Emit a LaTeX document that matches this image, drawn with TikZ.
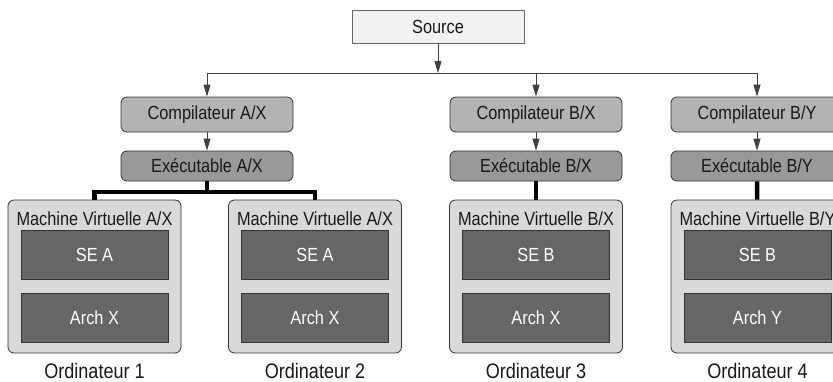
\documentclass[tikz,border=0pt]{standalone}
\usepackage{fontspec}
\setmainfont{Liberation Sans}[FakeStretch=0.86]
\usetikzlibrary{arrows.meta}
\definecolor{srcfill}{HTML}{F2F2F2}
\definecolor{compfill}{HTML}{B3B3B3}
\definecolor{exefill}{HTML}{999999}
\definecolor{vmfill}{HTML}{D9D9D9}
\definecolor{layerfill}{HTML}{666666}
\definecolor{edge}{HTML}{333333}
\tikzset{
	every node/.style={font=\fontsize{19}{21}\selectfont, text=black!90, inner sep=0pt},
	srcbox/.style={draw=black!60, fill=srcfill, line width=0.8pt, minimum width=172pt, minimum height=33pt},
	compbox/.style={draw=edge, fill=compfill, line width=0.8pt, rounded corners=6pt, minimum width=172pt, minimum height=35pt},
	exebox/.style={draw=edge, fill=exefill, line width=0.8pt, rounded corners=6pt, minimum width=172pt, minimum height=30pt},
	vmbox/.style={draw=edge, fill=vmfill, line width=0.8pt, rounded corners=6pt, minimum width=173pt, minimum height=153pt},
	layerbox/.style={draw=edge, fill=layerfill, line width=0.8pt, text=white, minimum width=147pt, minimum height=49pt},
	pcname/.style={font=\fontsize{21}{23}\selectfont},
	flow/.style={draw=black!75, line width=0.8pt, -{Triangle[length=12pt,width=7pt]}},
	bus/.style={draw=black!75, line width=0.8pt},
	link/.style={draw=black, line width=4.5pt},
}

\begin{document}
\begin{tikzpicture}[x=1pt, y=-1pt]
			%%%%% START %%%%%
			\useasboundingbox (0, 0) rectangle (833, 381);
			
			\node[srcbox] (src) at (438, 26.5) {Source};
			
			\coordinate (busL) at (207, 73);
			\coordinate (busR) at (757, 73);
			
			\node[compbox] (compAX) at (207, 114.5) {Compilateur A/X};
			\node[exebox] (exeAX) at (207, 166) {Exécutable A/X};
			
			\node[compbox] (compBX) at (536, 114.5) {Compilateur B/X};
			\node[exebox] (exeBX) at (536, 166) {Exécutable B/X};
			
			\node[compbox] (compBY) at (757, 114.5) {Compilateur B/Y};
			\node[exebox] (exeBY) at (757, 166) {Exécutable B/Y};
			
			% machines
			\node[vmbox] (vm1) at (94.5, 276.5) {};
			\node (vm1t) at (94.5, 219) {Machine Virtuelle A/X};
			\node[layerbox] (se1) at (94.5, 254.5) {SE A};
			\node[layerbox] (arch1) at (94.5, 318) {Arch X};
			\node[pcname] (pc1) at (94.5, 370.5) {Ordinateur 1};
			
			\node[vmbox] (vm2) at (315, 276.5) {};
			\node (vm2t) at (315, 219) {Machine Virtuelle A/X};
			\node[layerbox] (se2) at (315, 254.5) {SE A};
			\node[layerbox] (arch2) at (315, 318) {Arch X};
			\node[pcname] (pc2) at (315, 370.5) {Ordinateur 2};
			
			\node[vmbox] (vm3) at (536, 276.5) {};
			\node (vm3t) at (536, 219) {Machine Virtuelle B/X};
			\node[layerbox] (se3) at (536, 254.5) {SE B};
			\node[layerbox] (arch3) at (536, 318) {Arch X};
			\node[pcname] (pc3) at (536, 370.5) {Ordinateur 3};
			
			\node[vmbox] (vm4) at (757.5, 276.5) {};
			\node (vm4t) at (757.5, 219) {Machine Virtuelle B/Y};
			\node[layerbox] (se4) at (757.5, 254.5) {SE B};
			\node[layerbox] (arch4) at (757.5, 318) {Arch Y};
			\node[pcname] (pc4) at (757.5, 370.5) {Ordinateur 4};
			
			% compile flow
			\draw[bus] (busL) -- (busR);
			\draw[flow] (src) -- (src |- busL);
			\draw[flow] (busL) -- (compAX);
			\draw[flow] (compBX |- busL) -- (compBX);
			\draw[flow] (busR) -- (compBY);
			\draw[flow] (compAX) -- (exeAX);
			\draw[flow] (compBX) -- (exeBX);
			\draw[flow] (compBY) -- (exeBY);
			
			% deployment
			\coordinate (split) at (207, 192);
			\draw[link] (exeAX) -- (split);
			\draw[link] (vm1) |- (split) -| (vm2);
			\draw[link] (exeBX) -- (vm3);
			\draw[link] (exeBY) -- (vm4);
			
			%%%%% END %%%%%
\end{tikzpicture}
\end{document}
